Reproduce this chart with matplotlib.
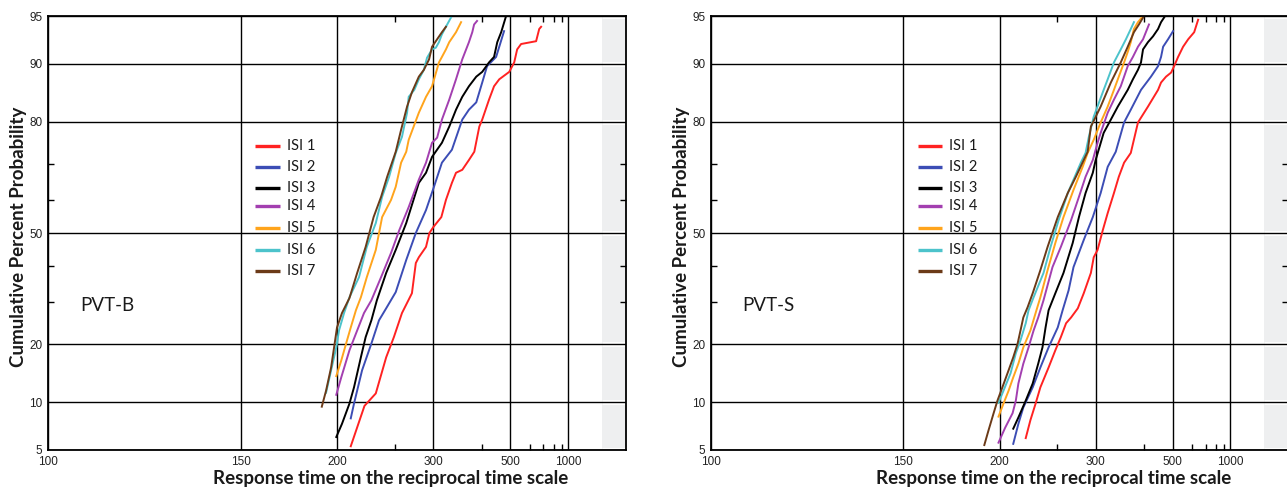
import math
import numpy as np
import matplotlib
matplotlib.use("Agg")
import matplotlib.pyplot as plt
from matplotlib import font_manager

# cumulative RT distributions: response time (ms), cumulative percent
labels = ["ISI 1", "ISI 2", "ISI 3", "ISI 4", "ISI 5", "ISI 6", "ISI 7"]
colors = ["#ff2222", "#3c4db5", "#000000", "#a33fb0", "#ffa41c", "#4cc3cb", "#6b3a18"]

# PVT-B
b_rt_1 = [210, 221, 231, 241, 249, 258, 270, 275, 279, 289, 294, 300, 313, 321, 332, 340,
          353, 368, 381, 394, 402, 422, 438, 456, 495, 517, 531, 551, 643, 666, 681]
b_pct_1 = [5.3, 9.5, 11.2, 17.3, 21.5, 27.2, 32.4, 41.0, 42.7, 45.8, 50.0, 51.8, 54.8, 59.9,
           64.8, 67.6, 68.4, 71.0, 73.1, 79.0, 80.5, 84.4, 86.7, 87.8, 88.9, 90.2, 91.8,
           92.4, 92.7, 93.9, 94.1]
b_rt_2 = [210, 212.5, 219, 227, 234, 241, 251, 263, 275, 289, 301, 314, 332, 353, 368, 386,
          402, 416, 445, 456, 474]
b_pct_2 = [8.0, 9.8, 14.9, 20.1, 25.4, 28.4, 32.7, 41.9, 50.0, 56.9, 63.7, 70.3, 73.6, 80.5,
           82.5, 83.9, 87.3, 89.7, 90.9, 92.1, 93.7]
b_rt_3 = [199.5, 203.5, 209, 212.5, 218, 222, 227, 232, 241, 251, 263, 279, 289, 298, 314,
          327, 340, 353, 368, 386, 402, 422, 438, 449, 463, 482]
b_pct_3 = [6.1, 7.4, 9.8, 12.1, 17.3, 21.5, 25.4, 30.5, 38.1, 44.9, 53.0, 64.8, 67.6, 71.8,
           75.3, 79.0, 82.5, 84.9, 86.7, 88.2, 88.9, 90.2, 90.9, 92.6, 93.6, 95.0]
b_rt_4 = [199.5, 203, 209, 215, 220.6, 227, 236, 246, 255, 266, 279, 289, 298, 306, 314,
          327, 340, 353, 368, 376, 380.5, 388]
b_pct_4 = [11.0, 13.7, 18.7, 23.0, 27.2, 30.5, 36.9, 44.0, 50.9, 57.8, 65.7, 70.3, 75.3,
           76.5, 80.5, 84.4, 87.8, 90.6, 92.6, 93.6, 94.3, 94.6]
b_rt_5 = [199.5, 203, 206.5, 210, 214, 218, 223, 231, 237, 246, 251, 257, 263, 266, 279,
          289, 298, 309, 314, 321, 327, 340, 350.5]
b_pct_5 = [13.9, 16.7, 20.1, 23.7, 27.9, 31.3, 36.9, 44.9, 54.8, 59.9, 63.7, 70.3, 73.1,
           76.0, 81.9, 84.9, 86.7, 90.2, 90.9, 91.8, 92.6, 93.6, 94.5]
b_rt_6 = [192.7, 196, 199.5, 201.4, 205, 209, 216.5, 223, 231, 237, 244, 251, 258, 264, 266,
          273, 279, 286, 290.5, 298, 304, 309, 314, 321, 330.5]
b_pct_6 = [11.3, 14.9, 19.3, 23.0, 27.2, 31.3, 36.9, 45.8, 53.0, 60.8, 66.5, 72.8, 76.7,
           81.9, 84.9, 86.1, 87.8, 89.2, 90.8, 91.8, 92.0, 92.6, 93.4, 94.1, 94.9]
b_rt_7 = [190, 192.7, 196, 198, 200, 203.5, 209, 215, 222, 229, 236, 242, 251, 257, 264,
          270, 279, 286, 293.5, 298, 306, 314, 321]
b_pct_7 = [9.4, 11.6, 15.4, 19.3, 23.7, 27.2, 31.1, 38.1, 45.8, 54.8, 60.8, 66.5, 73.1,
           78.3, 83.1, 85.7, 88.2, 89.2, 90.6, 92.1, 92.9, 93.6, 94.1]

# PVT-S
s_rt_1 = [220, 224, 228.6, 233, 241, 248, 254, 260, 266, 274.5, 282.5, 292.7, 297, 303,
          311.6, 320, 331.5, 341, 352, 367, 384.6, 412, 444, 454.5, 473, 493.6, 506.6, 525,
          550, 578, 615, 642]
s_pct_1 = [6.0, 7.8, 9.8, 12.1, 15.4, 18.7, 21.5, 24.7, 26.1, 28.4, 32.4, 38.1, 42.7, 44.9,
           50.9, 56.0, 61.9, 66.5, 70.3, 72.8, 79.9, 83.1, 86.1, 87.3, 88.2, 88.8, 89.7,
           90.9, 92.1, 92.9, 93.6, 94.7]
s_rt_2 = [210, 214, 218, 226, 233, 241, 250.6, 256, 263, 269, 282.5, 295.6, 308, 320, 335,
          352, 367, 392.5, 421, 444, 454.5, 462, 481, 502]
s_pct_2 = [5.5, 7.4, 9.3, 12.1, 15.4, 19.3, 23.7, 27.9, 33.2, 39.8, 47.9, 54.8, 61.9, 69.2,
           73.1, 79.9, 82.5, 86.1, 88.2, 89.7, 90.9, 92.1, 92.9, 93.7]
s_rt_3 = [210, 214, 220, 226, 231, 235, 238, 241, 248, 257, 268, 276, 285, 295.6, 300, 313,
          325.7, 339, 360, 372, 384.6, 392.5, 398, 412, 427.5, 444, 454.5, 469.5]
s_pct_3 = [6.9, 8.1, 10.2, 12.7, 16.1, 19.3, 23.7, 27.9, 32.4, 38.1, 47.0, 54.8, 61.9, 67.6,
           71.0, 77.6, 80.5, 83.1, 86.1, 87.8, 89.2, 90.2, 91.8, 92.6, 93.2, 93.9, 94.5, 95.0]
s_rt_4 = [199.3, 204, 209.5, 212, 214, 218, 222.4, 226.8, 231, 236, 245, 254, 266, 276, 285,
          295.6, 303, 308, 320, 331.5, 345, 360, 372, 384.6, 398, 415]
s_pct_4 = [5.6, 7.0, 8.6, 10.2, 12.7, 16.1, 19.3, 23.0, 26.1, 30.5, 39.8, 45.8, 53.9, 60.8,
           66.5, 71.0, 75.3, 77.6, 81.9, 84.4, 86.7, 89.7, 90.9, 92.1, 92.9, 94.3]
s_rt_5 = [199.3, 202.8, 206.5, 210, 214, 218, 224, 228.6, 233, 240, 248, 257, 269, 281, 288,
          297, 308, 320, 331.5, 341, 352, 360, 367, 374.5, 384.6, 398]
s_pct_5 = [8.2, 9.8, 11.6, 13.7, 16.1, 19.3, 23.0, 27.2, 31.3, 38.9, 47.0, 54.8, 62.8, 69.2,
           72.8, 76.0, 79.9, 83.1, 86.1, 88.2, 90.2, 91.5, 92.6, 93.9, 94.5, 95.0]
s_rt_6 = [199.3, 202.8, 208, 212, 215.7, 220, 222.4, 226.8, 236, 243, 251.6, 262, 269, 278.5,
          285, 289.7, 297, 313, 320, 331.5, 345, 356, 367, 374.5]
s_pct_6 = [9.9, 11.6, 14.4, 18.1, 20.8, 24.7, 27.9, 31.3, 38.1, 45.8, 53.9, 61.9, 65.7, 70.3,
           72.8, 76.7, 81.1, 86.1, 87.8, 90.2, 91.8, 92.9, 93.9, 94.5]
s_rt_7 = [190, 192.6, 196, 198.6, 202, 206.5, 210, 213.4, 215.7, 218, 221.6, 226, 233, 240,
          250.6, 262, 272, 282.5, 288, 292.7, 308, 325.7, 345, 360, 374.5, 387, 400.6]
s_pct_7 = [5.4, 6.7, 8.6, 10.2, 12.1, 14.9, 17.3, 20.1, 23.0, 26.1, 28.7, 32.4, 38.9, 45.8,
           54.8, 61.9, 66.5, 71.0, 73.1, 79.0, 83.1, 87.3, 90.2, 92.1, 93.6, 94.3, 95.0]

x_major = [100, 150, 200, 300, 500, 1000]
x_minor = [250, 400, 600, 700, 800, 900]
y_major = [5, 10, 20, 50, 80, 90, 95]
y_minor = [30, 40, 60, 70]

panels = [
    ("PVT-B", [(b_rt_1, b_pct_1), (b_rt_2, b_pct_2), (b_rt_3, b_pct_3), (b_rt_4, b_pct_4),
               (b_rt_5, b_pct_5), (b_rt_6, b_pct_6), (b_rt_7, b_pct_7)]),
    ("PVT-S", [(s_rt_1, s_pct_1), (s_rt_2, s_pct_2), (s_rt_3, s_pct_3), (s_rt_4, s_pct_4),
               (s_rt_5, s_pct_5), (s_rt_6, s_pct_6), (s_rt_7, s_pct_7)]),
]

# fonts
_have = {f.name for f in font_manager.fontManager.ttflist}
MAIN = "Lato" if "Lato" in _have else "DejaVu Sans"
NARROW = "Liberation Sans Narrow" if "Liberation Sans Narrow" in _have else "Liberation Sans"


# reciprocal time axis and probit axis
def recip(t):
    t = np.asarray(t, dtype=float)
    t = np.where(t > 1e-6, t, 1e-6)
    return -1.0 / t


def recip_inv(v):
    v = np.asarray(v, dtype=float)
    v = np.where(v < -1e-12, v, -1e-12)
    return -1.0 / v


_A = [-3.969683028665376e+01, 2.209460984245205e+02, -2.759285104469687e+02,
      1.383577518672690e+02, -3.066479806614716e+01, 2.506628277459239e+00]
_B = [-5.447609879822406e+01, 1.615858368580409e+02, -1.556989798598866e+02,
      6.680131188771972e+01, -1.328068155288572e+01]
_C = [-7.784894002430293e-03, -3.223964580411365e-01, -2.400758277161838e+00,
      -2.549732539343734e+00, 4.374664141464968e+00, 2.938163982698783e+00]
_D = [7.784695709041462e-03, 3.224671290700398e-01, 2.445134137142996e+00,
      3.754408661907416e+00]


def _ppf1(p):
    p = min(max(p, 1e-9), 1 - 1e-9)
    if p < 0.02425:
        q = math.sqrt(-2 * math.log(p))
        return (((((_C[0]*q + _C[1])*q + _C[2])*q + _C[3])*q + _C[4])*q + _C[5]) / \
               ((((_D[0]*q + _D[1])*q + _D[2])*q + _D[3])*q + 1)
    if p > 1 - 0.02425:
        return -_ppf1(1 - p)
    q = p - 0.5
    r = q * q
    return (((((_A[0]*r + _A[1])*r + _A[2])*r + _A[3])*r + _A[4])*r + _A[5]) * q / \
           (((((_B[0]*r + _B[1])*r + _B[2])*r + _B[3])*r + _B[4])*r + 1)


_ppf = np.vectorize(_ppf1, otypes=[float])
_erf = np.vectorize(math.erf, otypes=[float])


def probit(pct):
    return _ppf(np.asarray(pct, dtype=float) / 100.0)


def probit_inv(z):
    return 50.0 * (1.0 + _erf(np.asarray(z, dtype=float) / math.sqrt(2)))


LEG_Y = [0.700, 0.652, 0.604, 0.562, 0.512, 0.461, 0.412]
XR = 1e7

fig = plt.figure(figsize=(12.87, 4.92), dpi=100)
axes = [fig.add_axes([48 / 1287, 42 / 492, 578 / 1287, 434 / 492]),
        fig.add_axes([711 / 1287, 42 / 492, 577 / 1287, 434 / 492])]

for ax, (tag, series) in zip(axes, panels):
    ax.set_xlim(100, XR)
    ax.set_ylim(5, 95)
    ax.set_autoscale_on(False)
    ax.set_xscale("function", functions=(recip, recip_inv))
    ax.set_yscale("function", functions=(probit, probit_inv))
    ax.set_xlim(100, XR)
    ax.set_ylim(5, 95)

    ax.axvspan(2450, XR, color="#eeeff0", lw=0, zorder=0.5)
    for y in y_major:
        ax.plot([2450, XR], [y, y], color="white", lw=3.5, zorder=0.8, solid_capstyle="butt")

    for (rt, pct), c in zip(series, colors):
        ax.plot(rt, pct, color=c, lw=1.4, zorder=2)

    ax.set_xticks(x_major, [str(v) for v in x_major])
    ax.set_xticks(x_minor, minor=True)
    ax.set_yticks(y_major, [str(v) for v in y_major])
    ax.set_yticks(y_minor, minor=True)
    ax.set_xlim(100, XR)
    ax.set_ylim(5, 95)
    ax.grid(True, which="major", color="black", lw=1.0)
    ax.tick_params(which="major", length=0, labelsize=8.5, pad=4)
    for lab in ax.get_xticklabels() + ax.get_yticklabels():
        lab.set_fontfamily(NARROW)
        lab.set_color("#222222")
    ax.tick_params(axis="x", which="minor", direction="in", top=True, bottom=True,
                   length=4, width=1)
    ax.tick_params(axis="y", which="minor", direction="in", left=True, right=True,
                   length=4, width=1)
    for s in ax.spines.values():
        s.set_linewidth(1.3)

    for lab, c, ly in zip(labels, colors, LEG_Y):
        ax.plot([0.358, 0.401], [ly, ly], transform=ax.transAxes, color=c, lw=2.4,
                solid_capstyle="butt")
        ax.text(0.413, ly, lab, transform=ax.transAxes, va="center", ha="left",
                fontsize=10.5, family=MAIN, color="#1a1a1a")

    ax.text(0.055, 0.334, tag, transform=ax.transAxes, va="center", ha="left",
            fontsize=13.5, family=MAIN, color="#1a1a1a")

    ax.set_xlabel("Response time on the reciprocal time scale", fontsize=13.5,
                  fontweight="bold", family=MAIN, color="#1a1a1a")
    ax.xaxis.set_label_coords(0.593, -0.045)
    ax.set_ylabel("Cumulative Percent Probability", fontsize=13.5, fontweight="bold",
                  family=MAIN, color="#1a1a1a")
    ax.yaxis.set_label_coords(-0.037, 0.491)

fig.savefig("out.png", dpi=100)
